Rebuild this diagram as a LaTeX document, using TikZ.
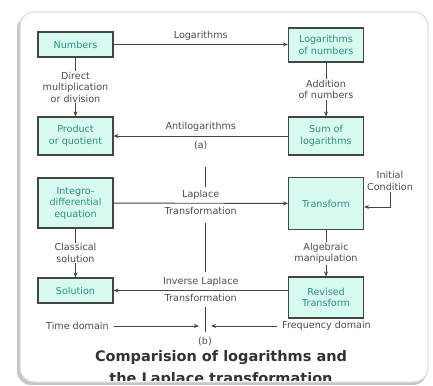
\documentclass[tikz,border=0pt]{standalone}
\usepackage{fontspec}
\setmainfont{DejaVu Sans}
\usepackage{tikz}
\usetikzlibrary{positioning,arrows.meta,calc}
\newcommand{\arr}{-{Stealth[length=5pt,width=4pt]}}
\definecolor{boxfill}{HTML}{D6FAF0}
\definecolor{boxtext}{HTML}{2F8F7F}
\definecolor{lines}{HTML}{454545}

\begin{document}
\begin{tikzpicture}[x=1pt,y=-1pt,
    box/.style={draw=lines,line width=1.1pt,fill=boxfill,text=boxtext,align=center,
        minimum width=75pt,inner sep=1pt,font=\fontsize{9.6}{11.5}\selectfont},
    txt/.style={text=black!70,align=center,inner sep=1pt,font=\fontsize{9.6}{11.5}\selectfont},
    conn/.style={draw=lines,line width=0.9pt}]
            \useasboundingbox (0,0) rectangle (433,385);
            \fill[gray!45,rounded corners=14pt] (17,15) rectangle (427,385);
            \filldraw[fill=white,draw=gray!30,line width=1pt,rounded corners=14pt] (20,12) rectangle (428,382);
            \node[box,minimum height=25pt] (num) at (75.5,44.5) {Numbers};
            \node[box,minimum height=34pt] (lognum) at (326,45) {Logarithms\\of numbers};
            \node[box,minimum height=38pt] (prod) at (75.5,136) {Product\\or quotient};
            \node[box,minimum height=38pt] (sumlog) at (326,136) {Sum of\\logarithms};
            \node[box,minimum height=50pt] (integ) at (75.5,203) {Integro-\\differential\\equation};
            \node[box,minimum height=52pt] (trans) at (326,203.5) {Transform};
            \node[box,minimum height=25pt] (sol) at (75.5,290.5) {Solution};
            \node[box,minimum height=41pt] (rev) at (326,297.5) {Revised\\Transform};
            \node[txt] (init) at (390,181) {Initial\\Condition};
            \node[txt,anchor=west] (time) at (45,326) {Time domain};
            \node[txt,anchor=east] (freq) at (372,326) {Frequency domain};
            \node[txt] (b) at (205,341) {(b)};
            \coordinate (mid) at (205,326);
            \coordinate (div1) at (205,167);
            \coordinate (div2) at (205,187);
            \coordinate (div3) at (205,223);
            \coordinate (div4) at (205,272);
            \coordinate (div5) at (205,307);
            \coordinate (div6) at (205,332);
            \draw[conn] (div1) -- (div2);
            \draw[conn] (div3) -- (div4);
            \draw[conn] (div5) -- (div6);
            \draw[conn,\arr] (num.east) -- node[txt,above=3pt] {Logarithms} (num.east -| lognum.west);
            \draw[conn,\arr] (sumlog) -- node[txt,above=3pt] {Antilogarithms} node[txt,below=4pt] {(a)} (prod);
            \draw[conn,\arr] (integ) -- node[txt,above=2pt] {Laplace} node[txt,below=3pt] {Transformation} (trans);
            \draw[conn,\arr] (sol.east -| rev.west) -- node[txt,above=3pt] {Inverse Laplace} node[txt,below=2pt] {Transformation} (sol.east);
            \draw[conn,\arr] (num) -- node[txt,fill=white] {Direct\\multiplication\\or division} (prod);
            \draw[conn,\arr] (lognum) -- node[txt,fill=white] {Addition\\of numbers} (sumlog);
            \draw[conn,\arr] (integ) -- node[txt,fill=white] {Classical\\solution} (sol);
            \draw[conn,\arr] (trans) -- node[txt,fill=white] {Algebraic\\manipulation} (rev);
            \draw[conn,\arr] (init.south) |- ([yshift=-3.5pt]trans.east);
            \draw[conn,\arr,shorten <=4pt,shorten >=6pt] (time) -- (mid);
            \draw[conn,\arr,shorten <=4pt,shorten >=6pt] (freq) -- (mid);
            \node[anchor=base,text=black!80,font=\fontsize{14.5}{17}\selectfont\bfseries] (title) at (221,361) {Comparision of logarithms and};
            \begin{scope}
                \clip[rounded corners=14pt] (20,12) rectangle (428,380);
                \node[anchor=base,text=black!80,font=\fontsize{14.5}{17}\selectfont\bfseries] (title2) at (221,383) {the Laplace transformation};
            \end{scope}
        \end{tikzpicture}
\end{document}
